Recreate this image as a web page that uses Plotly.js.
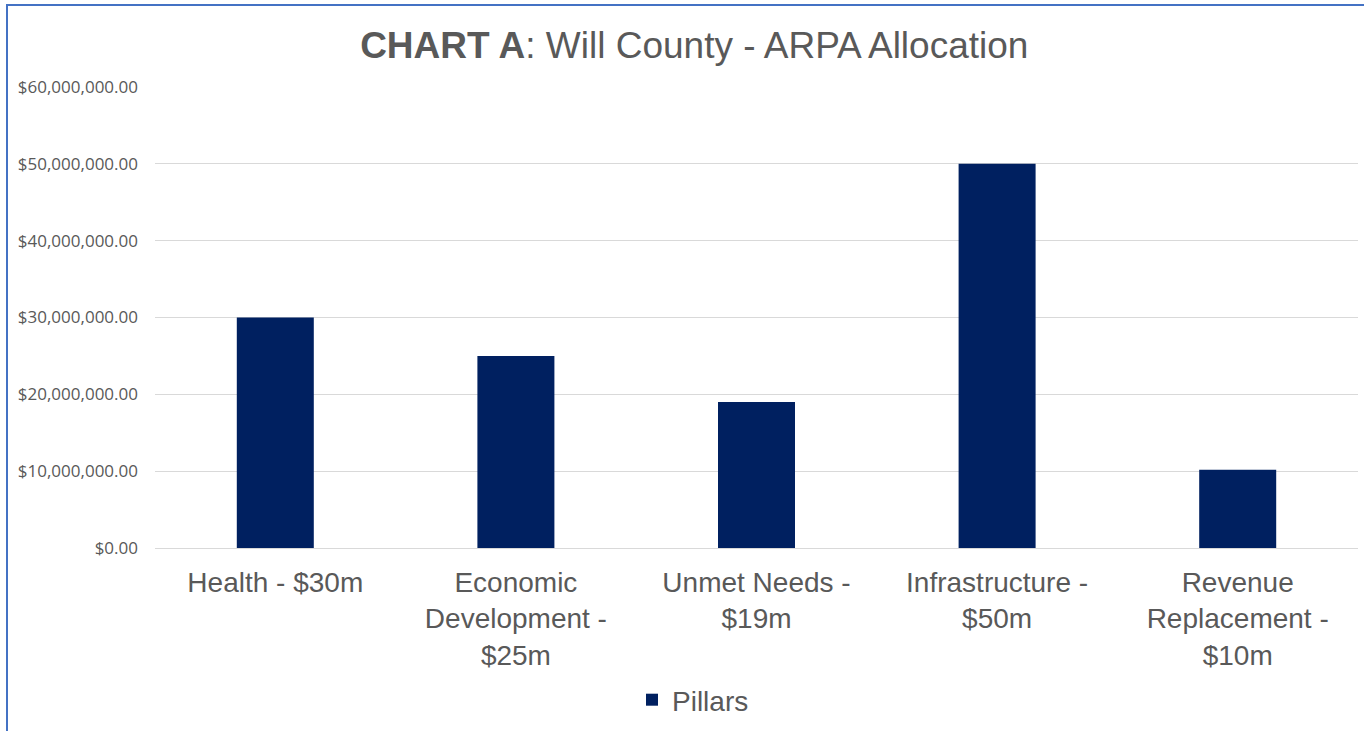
<!DOCTYPE html>
<html>
<head>
<meta charset="utf-8">
<script src="https://cdn.plot.ly/plotly-3.0.1.min.js"></script>
<style>
  html, body { margin: 0; padding: 0; background: #fff; }
  #wrap { position: relative; width: 1364px; height: 731px; }
  #chart { position: absolute; left: 0; top: 0; width: 1364px; height: 731px; }
  #frame { position: absolute; left: 6px; top: 4px; width: 1358px; height: 727px;
           border-left: 2px solid #4472C4; border-top: 2px solid #4472C4; box-sizing: border-box; pointer-events: none; }
</style>
</head>
<body>
<div id="wrap">
  <div id="chart"></div>
  <div id="frame"></div>
</div>
<script>
const categories = [
  "Health - $30m",
  "Economic<br>Development -<br>$25m",
  "Unmet Needs -<br>$19m",
  "Infrastructure -<br>$50m",
  "Revenue<br>Replacement -<br>$10m"
];
const pillars = [30000000, 25000000, 19000000, 50000000, 10200000];
const yTickValues = [0, 10000000, 20000000, 30000000, 40000000, 50000000, 60000000];
const yTickLabels = ["$0.00", "$10,000,000.00", "$20,000,000.00", "$30,000,000.00",
                     "$40,000,000.00", "$50,000,000.00", "$60,000,000.00"];
const seriesName = "Pillars";
const titleText = "<b>CHART A</b>: Will County - ARPA Allocation";

const trace = {
  type: "bar",
  x: categories,
  y: pillars,
  name: seriesName,
  marker: { color: "#002060" },
  showlegend: true,
  hoverinfo: "x+y"
};

const layout = {
  width: 1364,
  height: 731,
  paper_bgcolor: "#ffffff",
  plot_bgcolor: "#ffffff",
  margin: { l: 155, r: 6, t: 87, b: 183 },
  bargap: 0.68,
  title: {
    text: titleText,
    font: { family: "Liberation Sans, Arial, sans-serif", size: 37, color: "#595959" },
    xref: "container", x: 0.509, xanchor: "center",
    yref: "container", y: 1 - 45 / 731, yanchor: "middle"
  },
  xaxis: {
    type: "category",
    tickfont: { family: "Liberation Sans, Arial, sans-serif", size: 28, color: "#595959" },
    showgrid: false,
    showline: false,
    ticks: "",
    ticklabelstandoff: 15,
    fixedrange: true
  },
  yaxis: {
    range: [0, 60000000],
    tickmode: "array",
    tickvals: yTickValues,
    ticktext: yTickLabels,
    tickfont: { family: "Open Sans, sans-serif", size: 17, color: "#595959" },
    showgrid: true,
    gridcolor: "#d9d9d9",
    gridwidth: 1,
    zeroline: true,
    zerolinecolor: "#d9d9d9",
    zerolinewidth: 1,
    showline: false,
    ticks: "",
    ticklabelstandoff: 16,
    fixedrange: true
  },
  showlegend: true,
  legend: {
    orientation: "h",
    x: (632 - 155) / 1203, xanchor: "left",
    y: (548 - 700) / 461, yanchor: "middle",
    font: { family: "Liberation Sans, Arial, sans-serif", size: 28, color: "#595959" },
    itemwidth: 30
  }
};

Plotly.newPlot("chart", [trace], layout, { displayModeBar: false, staticPlot: true });
</script>
</body>
</html>
